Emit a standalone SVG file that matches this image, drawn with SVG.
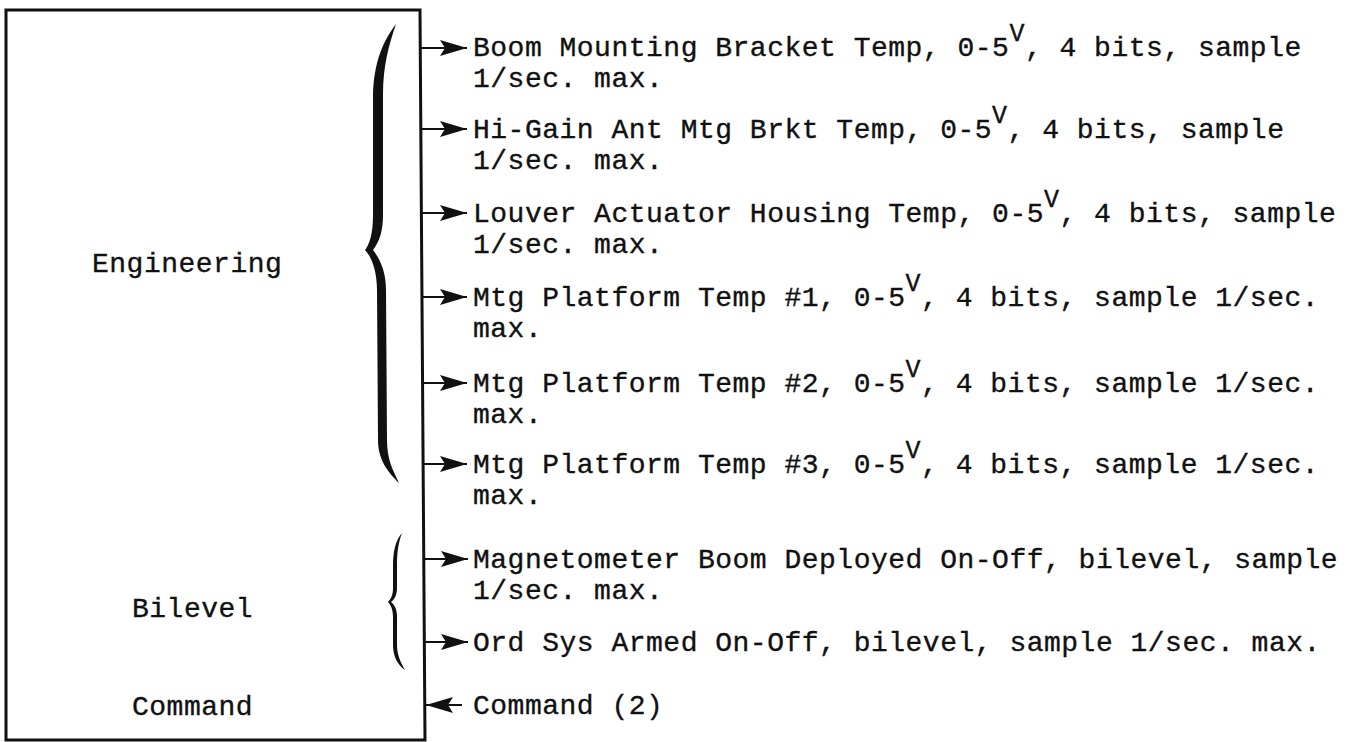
<svg xmlns="http://www.w3.org/2000/svg" width="1350" height="742" viewBox="0 0 1350 742">
<style>
text{font-family:"Liberation Mono","DejaVu Sans Mono",monospace;font-size:28px;letter-spacing:0.5px;fill:#111;stroke:#111;stroke-width:0.35}
.sup{font-size:25px}
.box{fill:none;stroke:#111;stroke-width:3}
.conn{stroke:#111;stroke-width:2;fill:none}
.brace{fill:#111}
</style>
<defs>
<marker id="ah" markerUnits="userSpaceOnUse" markerWidth="28" markerHeight="18" refX="27" refY="9" orient="auto">
<path d="M0,1 L27,9 L0,17 L5,9 Z" fill="#111"/>
</marker>
</defs>
<g id="system">
<path class="box" d="M6,10 L420,10 L425,740 L6,740 Z"/>
<text x="92" y="272">Engineering</text>
<text x="132" y="617">Bilevel</text>
<text x="132" y="715">Command</text>
</g>
<g id="brace-engineering">
<path class="brace" d="M396,24 C384,40 374,60 373,95 L373,215 C373,235 369,245 365,250 C371,256 377,270 377,290 L378,440 C378,460 388,472 399,483 C393,470 387,460 387,440 L386,290 C386,270 379,258 373,250 C379,242 383,232 383,215 L383,95 C383,65 389,45 396,24 Z"/>
</g>
<g id="brace-bilevel">
<path class="brace" d="M402,533 C396,540 393,550 393,565 L393,588 C393,595 391,599 388,602 C391,605 393,610 393,617 L393,645 C393,657 398,665 405,670 C401,663 397,655 397,645 L397,617 C397,610 395,605 391,602 C395,599 397,594 397,588 L397,565 C397,550 399,541 402,533 Z"/>
</g>
<g id="connectors">
<line class="conn" x1="421" y1="48" x2="467" y2="48" marker-end="url(#ah)"/>
<line class="conn" x1="421" y1="129" x2="467" y2="129" marker-end="url(#ah)"/>
<line class="conn" x1="422" y1="213" x2="467" y2="213" marker-end="url(#ah)"/>
<line class="conn" x1="422" y1="297" x2="467" y2="297" marker-end="url(#ah)"/>
<line class="conn" x1="422" y1="383" x2="467" y2="383" marker-end="url(#ah)"/>
<line class="conn" x1="423" y1="464" x2="467" y2="464" marker-end="url(#ah)"/>
<line class="conn" x1="424" y1="559" x2="468" y2="559" marker-end="url(#ah)"/>
<line class="conn" x1="424" y1="642" x2="468" y2="642" marker-end="url(#ah)"/>
<line class="conn" x1="462" y1="705" x2="426" y2="705" marker-end="url(#ah)"/>
</g>
<g id="signal-1"><text x="473" y="56">Boom Mounting Bracket Temp, 0-5<tspan class="sup" dy="-15">V</tspan><tspan dy="15">, 4 bits, sample</tspan></text><text x="473" y="87">1/sec. max.</text></g>
<g id="signal-2"><text x="473" y="138">Hi-Gain Ant Mtg Brkt Temp, 0-5<tspan class="sup" dy="-15">V</tspan><tspan dy="15">, 4 bits, sample</tspan></text><text x="473" y="169">1/sec. max.</text></g>
<g id="signal-3"><text x="473" y="222">Louver Actuator Housing Temp, 0-5<tspan class="sup" dy="-15">V</tspan><tspan dy="15">, 4 bits, sample</tspan></text><text x="473" y="253">1/sec. max.</text></g>
<g id="signal-4"><text x="473" y="306">Mtg Platform Temp #1, 0-5<tspan class="sup" dy="-15">V</tspan><tspan dy="15">, 4 bits, sample 1/sec.</tspan></text><text x="473" y="337">max.</text></g>
<g id="signal-5"><text x="473" y="392">Mtg Platform Temp #2, 0-5<tspan class="sup" dy="-15">V</tspan><tspan dy="15">, 4 bits, sample 1/sec.</tspan></text><text x="473" y="423">max.</text></g>
<g id="signal-6"><text x="473" y="473">Mtg Platform Temp #3, 0-5<tspan class="sup" dy="-15">V</tspan><tspan dy="15">, 4 bits, sample 1/sec.</tspan></text><text x="473" y="504">max.</text></g>
<g id="signal-7"><text x="473" y="568">Magnetometer Boom Deployed On-Off, bilevel, sample</text><text x="473" y="599">1/sec. max.</text></g>
<g id="signal-8"><text x="473" y="651">Ord Sys Armed On-Off, bilevel, sample 1/sec. max.</text></g>
<g id="command-in"><text x="473" y="714">Command (2)</text></g>
</svg>
